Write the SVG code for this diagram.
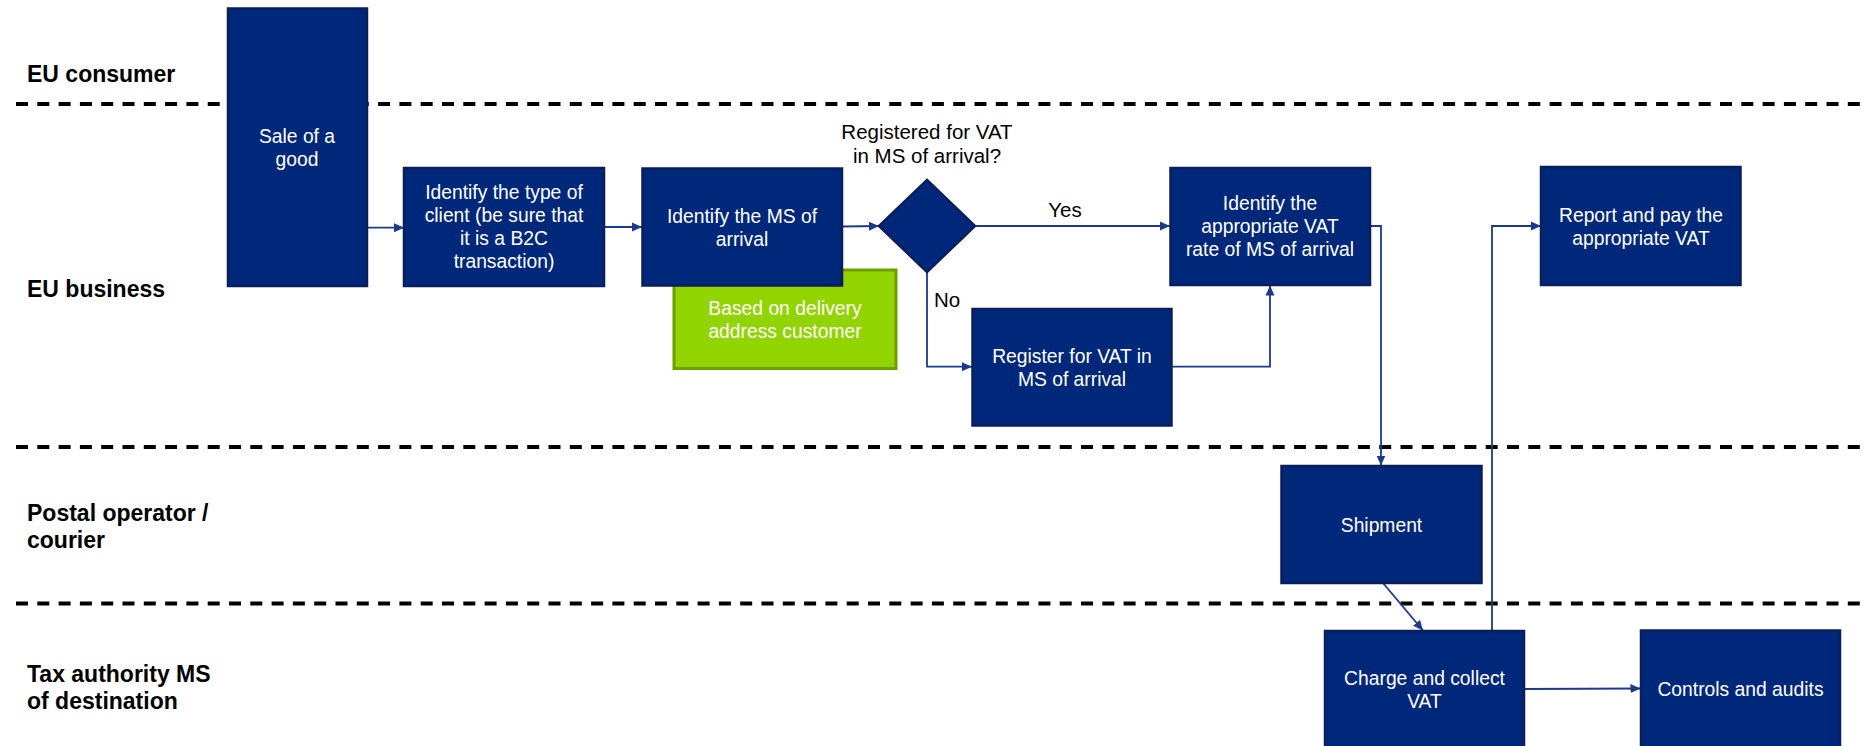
<svg xmlns="http://www.w3.org/2000/svg" width="1867" height="746" viewBox="0 0 1867 746">
  <style>
    .lane { stroke: #000; stroke-width: 4; stroke-dasharray: 12 9.3; fill: none; }
    .lbl { font-family: "Liberation Sans", Arial, sans-serif; font-size: 23px; font-weight: bold; fill: #000; }
    .box { fill: #00287A; stroke: #0B1E5C; stroke-width: 2.5; }
    .note { fill: #92D400; stroke: #6E9E00; stroke-width: 3; }
    .txt { font-family: "Liberation Sans", Arial, sans-serif; font-size: 19.3px; fill: #fff; text-anchor: middle; }
    .cap { font-family: "Liberation Sans", Arial, sans-serif; font-size: 20.5px; fill: #000; }
    .conn { fill: none; stroke: #1B3A8C; stroke-width: 1.8; }
  </style>
  <defs>
    <marker id="arrow" markerUnits="userSpaceOnUse" markerWidth="10" markerHeight="10" refX="10" refY="5" orient="auto">
      <path d="M0,0.5 L10,5 L0,9.5 z" fill="#1B3A8C"/>
    </marker>
  </defs>

  <rect width="1867" height="746" fill="#fff"/>

  <!-- swimlane separators and lane titles -->
  <g id="lanes">
    <line class="lane" x1="16" y1="104" x2="1867" y2="104"/>
    <line class="lane" x1="16" y1="447" x2="1867" y2="447"/>
    <line class="lane" x1="16" y1="603.5" x2="1867" y2="603.5"/>
    <text class="lbl" x="27" y="82">EU consumer</text>
    <text class="lbl" x="27" y="297">EU business</text>
    <text class="lbl" x="27" y="521">Postal operator /</text>
    <text class="lbl" x="27" y="547.5">courier</text>
    <text class="lbl" x="27" y="682">Tax authority MS</text>
    <text class="lbl" x="27" y="708.5">of destination</text>
  </g>

  <!-- connectors -->
  <g id="connectors">
    <path class="conn" d="M367,227.7 L404,227.7" marker-end="url(#arrow)"/>
    <path class="conn" d="M604,227 L642,227" marker-end="url(#arrow)"/>
    <path class="conn" d="M842,226.5 L879,226" marker-end="url(#arrow)"/>
    <path class="conn" d="M975,226 L1170,226" marker-end="url(#arrow)"/>
    <path class="conn" d="M927,272 L927,366.7 L972,366.7" marker-end="url(#arrow)"/>
    <path class="conn" d="M1171,366.7 L1270,366.7 L1270,285.5" marker-end="url(#arrow)"/>
    <path class="conn" d="M1370,226 L1381,226 L1381,465.5" marker-end="url(#arrow)"/>
    <path class="conn" d="M1383,583 L1423,630.5" marker-end="url(#arrow)"/>
    <path class="conn" d="M1492,631 L1492,226 L1541,226" marker-end="url(#arrow)"/>
    <path class="conn" d="M1524,689 L1640.5,688.5" marker-end="url(#arrow)"/>
    <text class="cap" x="1065" y="217" text-anchor="middle">Yes</text>
    <text class="cap" x="934" y="307">No</text>
  </g>

  <g id="sale">
    <rect class="box" x="228" y="8.5" width="139" height="277.5"/>
    <text class="txt" x="297" y="143">Sale of a</text>
    <text class="txt" x="297" y="166">good</text>
  </g>

  <g id="client-type">
    <rect class="box" x="404" y="168" width="200" height="118"/>
    <text class="txt" x="504" y="199">Identify the type of</text>
    <text class="txt" x="504" y="222">client (be sure that</text>
    <text class="txt" x="504" y="245">it is a B2C</text>
    <text class="txt" x="504" y="268">transaction)</text>
  </g>

  <g id="delivery-note">
    <rect class="note" x="674" y="270" width="222" height="98.5"/>
    <text class="txt" x="785" y="315">Based on delivery</text>
    <text class="txt" x="785" y="338">address customer</text>
  </g>

  <g id="ms-arrival">
    <rect class="box" x="642.5" y="168.5" width="199.5" height="117"/>
    <text class="txt" x="742" y="222.5">Identify the MS of</text>
    <text class="txt" x="742" y="245.5">arrival</text>
  </g>

  <g id="decision">
    <polygon class="box" points="927,180 975,226 927,272 879,226"/>
    <text class="cap" x="927" y="139" text-anchor="middle">Registered for VAT</text>
    <text class="cap" x="927" y="162.5" text-anchor="middle">in MS of arrival?</text>
  </g>

  <g id="vat-rate">
    <rect class="box" x="1170.5" y="168" width="199.5" height="117"/>
    <text class="txt" x="1270" y="210">Identify the</text>
    <text class="txt" x="1270" y="233">appropriate VAT</text>
    <text class="txt" x="1270" y="256">rate of MS of arrival</text>
  </g>

  <g id="register">
    <rect class="box" x="972.5" y="309" width="199" height="116.5"/>
    <text class="txt" x="1072" y="362.5">Register for VAT in</text>
    <text class="txt" x="1072" y="385.5">MS of arrival</text>
  </g>

  <g id="report">
    <rect class="box" x="1541" y="167" width="199.5" height="118"/>
    <text class="txt" x="1641" y="221.5">Report and pay the</text>
    <text class="txt" x="1641" y="244.5">appropriate VAT</text>
  </g>

  <g id="shipment">
    <rect class="box" x="1281.5" y="466" width="200" height="117"/>
    <text class="txt" x="1381.5" y="531.5">Shipment</text>
  </g>

  <g id="charge">
    <rect class="box" x="1325" y="631" width="199" height="120"/>
    <text class="txt" x="1424.5" y="685">Charge and collect</text>
    <text class="txt" x="1424.5" y="708">VAT</text>
  </g>

  <g id="controls">
    <rect class="box" x="1641" y="630.5" width="199" height="120"/>
    <text class="txt" x="1740.5" y="696">Controls and audits</text>
  </g>
</svg>
